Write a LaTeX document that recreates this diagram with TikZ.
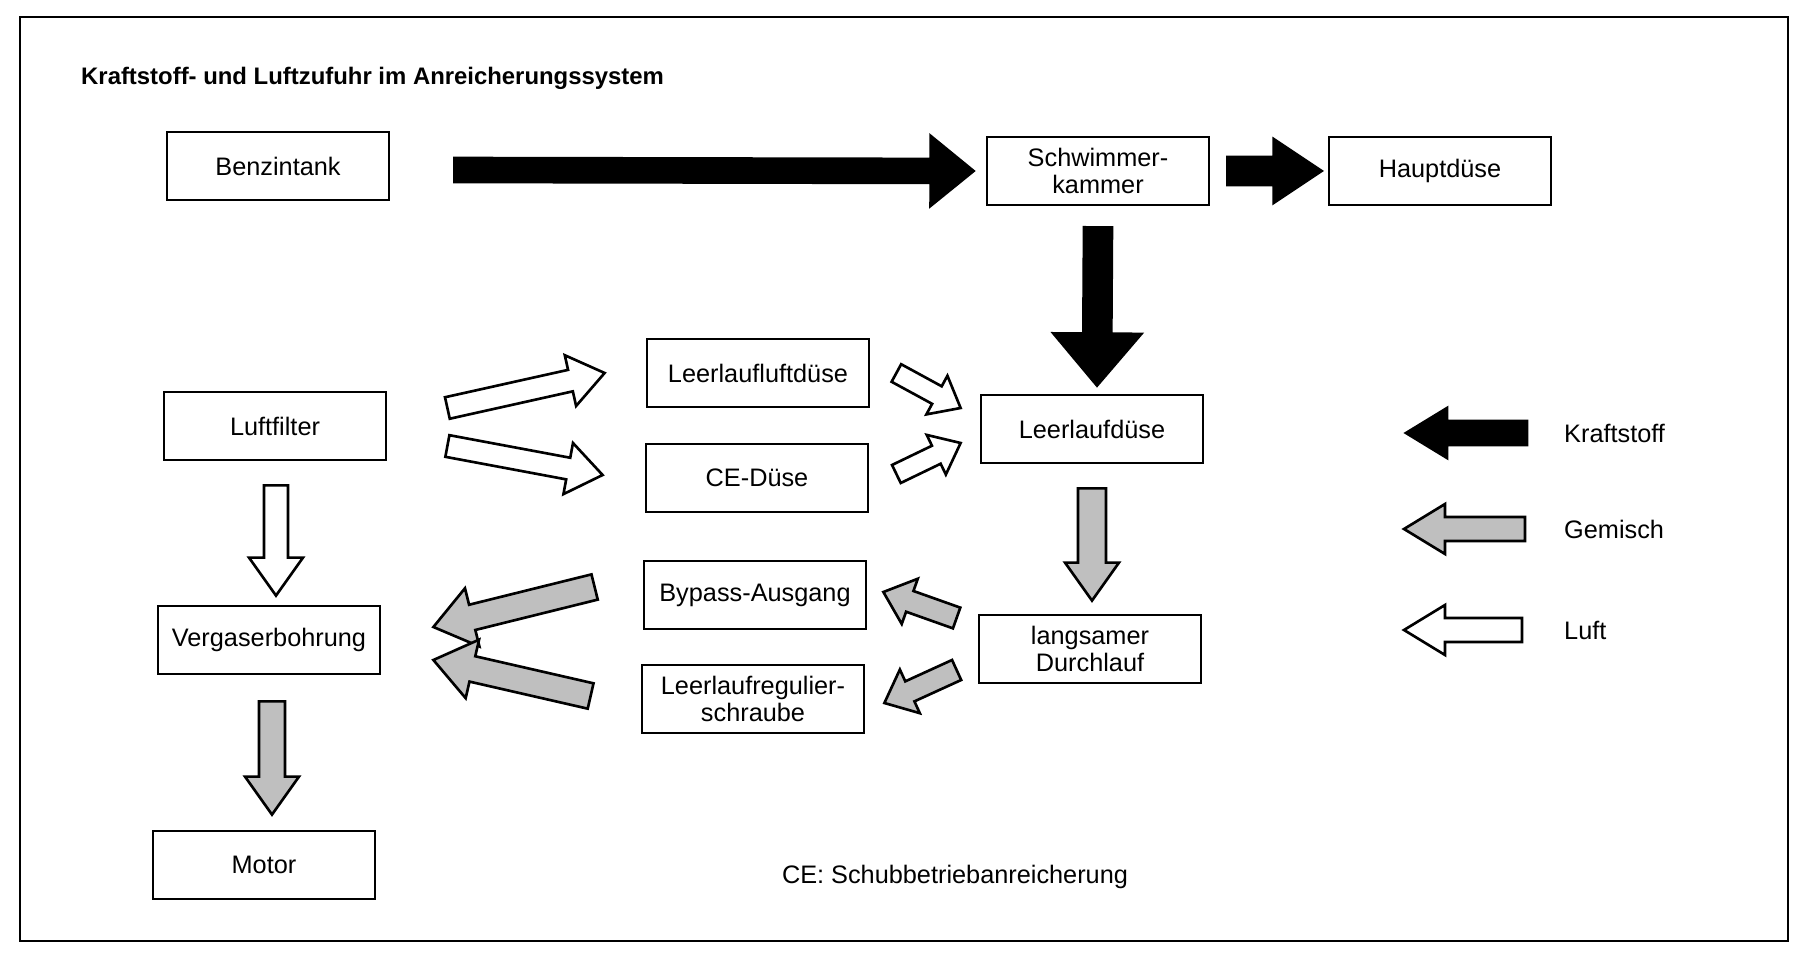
\documentclass[tikz,border=0pt]{standalone}
\usepackage{fontspec}
\setmainfont{Liberation Sans}
\usetikzlibrary{calc}

\colorlet{fuel}{black}
\colorlet{mix}{gray!50}
\colorlet{air}{white}

\tikzset{
  box/.style={draw, line width=1.6pt, minimum width=4.44cm, minimum height=1.36cm,
    align=center, font=\fontsize{14.4}{15}\selectfont},
  flow/.style={draw, line width=1.5pt, line join=miter},
  legendtext/.style={anchor=west, font=\fontsize{14.4}{15}\selectfont},
}

% block arrow: fill, shaft half width, head half width, head length, tail, tip (in px)
\newcommand{\flowarrow}[6]{%
  \coordinate (fa) at #5;
  \coordinate (fb) at #6;
  \coordinate (fh) at ($(fb)!#4*0.02cm!(fa)$);
  \draw[flow, fill=#1] ($(fa)!#2*0.02cm!90:(fb)$) -- ($(fh)!#2*0.02cm!90:(fb)$)
    -- ($(fh)!#3*0.02cm!90:(fb)$) -- (fb) -- ($(fh)!#3*0.02cm!-90:(fb)$)
    -- ($(fh)!#2*0.02cm!-90:(fb)$) -- ($(fa)!#2*0.02cm!-90:(fb)$) -- cycle;
}

\begin{document}
\begin{tikzpicture}[x=0.02cm, y=-0.02cm]
  \useasboundingbox (0,0) rectangle (1803,955);

  % Rahmen und Titel
  \draw[line width=1.2pt] (20,17) rectangle (1788,941);
  \node[anchor=west, font=\bfseries\fontsize{13.6}{15}\selectfont] (title) at (75,78)
    {Kraftstoff- und Luftzufuhr im Anreicherungssystem};

  % Kaesten
  \node[box] (benzin) at (278,166) {Benzintank};
  \node[box] (schwimmer) at (1098,171) {Schwimmer-\\kammer};
  \node[box] (haupt) at (1440,171) {Hauptdüse};
  \node[box] (luftfilter) at (275,426) {Luftfilter};
  \node[box] (leerluft) at (758,373) {Leerlaufluftdüse};
  \node[box] (cedues) at (757,478) {CE-Düse};
  \node[box] (leerlaufd) at (1092,429) {Leerlaufdüse};
  \node[box] (bypass) at (755,595) {Bypass-Ausgang};
  \node[box] (vergaser) at (269,640) {Vergaserbohrung};
  \node[box] (langsam) at (1090,649) {langsamer\\Durchlauf};
  \node[box] (regulier) at (753,699) {Leerlaufregulier-\\schraube};
  \node[box] (motor) at (264,865) {Motor};

  % Kraftstoff
  \flowarrow{fuel}{12}{35}{43}{($(benzin.east)+(64,4)$)}{($(schwimmer.west)+(-12,0)$)}
  \flowarrow{fuel}{14}{32}{48}{($(schwimmer.east)+(17,0)$)}{($(haupt.west)+(-6,0)$)}
  \flowarrow{fuel}{14}{44}{52}{($(schwimmer.south)+(0,21)$)}{($(leerlaufd.north)+(5,-8)$)}

  % Luft
  \flowarrow{air}{11}{26}{35}{($(luftfilter.east)+(60,-18)$)}{($(leerluft.west)+(-41,0)$)}
  \flowarrow{air}{11}{26}{35}{($(luftfilter.east)+(60,20)$)}{($(cedues.west)+(-42,-3)$)}
  \flowarrow{air}{12}{27}{38}{($(luftfilter.south)+(1,24)$)}{($(vergaser.north)+(7,-9)$)}
  \flowarrow{air}{10}{22}{27}{($(leerluft.east)+(26,0)$)}{($(leerlaufd.west)+(-19,-21)$)}
  \flowarrow{air}{10}{22}{27}{($(cedues.east)+(27,-4)$)}{($(leerlaufd.west)+(-19,14)$)}

  % Gemisch
  \flowarrow{mix}{14}{27}{38}{($(leerlaufd.south)+(0,24)$)}{($(langsam.north)+(2,-13)$)}
  \flowarrow{mix}{11}{24}{28}{($(langsam.west)+(-21,-31)$)}{($(bypass.east)+(16,-3)$)}
  \flowarrow{mix}{11}{24}{28}{($(langsam.west)+(-21,21)$)}{($(regulier.east)+(19,4)$)}
  \flowarrow{mix}{13}{30}{40}{($(bypass.west)+(-48,-8)$)}{($(vergaser.east)+(52,-13)$)}
  \flowarrow{mix}{13}{30}{40}{($(regulier.west)+(-50,-3)$)}{($(vergaser.east)+(52,20)$)}
  \flowarrow{mix}{13}{27}{38}{($(vergaser.south)+(3,26)$)}{($(motor.north)+(8,-15)$)}

  % Legende
  \node[legendtext] (kraft) at (1558,433) {Kraftstoff};
  \node[legendtext] (gemisch) at (1558,529) {Gemisch};
  \node[legendtext] (luft) at (1558,630) {Luft};
  \flowarrow{fuel}{12}{25}{41}{($(kraft.west)+(-31,0)$)}{($(kraft.west)+(-152,0)$)}
  \flowarrow{mix}{12}{25}{41}{($(gemisch.west)+(-33,0)$)}{($(gemisch.west)+(-154,0)$)}
  \flowarrow{air}{12}{25}{41}{($(luft.west)+(-36,0)$)}{($(luft.west)+(-154,0)$)}

  \node[font=\fontsize{14.4}{15}\selectfont] (fussnote) at (955,877) {CE: Schubbetriebanreicherung};
\end{tikzpicture}
\end{document}
